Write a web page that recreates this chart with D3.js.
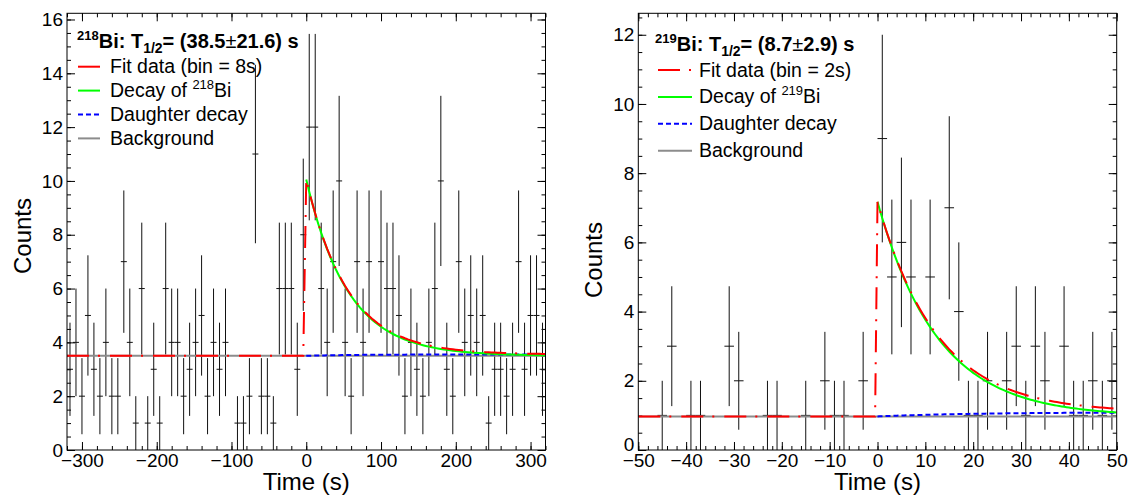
<!DOCTYPE html>
<html>
<head>
<meta charset="utf-8">
<script src="https://cdn.jsdelivr.net/npm/d3@7"></script>
<style>
  body { margin: 0; background: #fff; }
  svg { display: block; font-family: "Liberation Sans", Arial, Helvetica, sans-serif; }
</style>
</head>
<body>
<svg id="chart" width="1128" height="495"></svg>
<script>
// counts per bin (8 s bins for 218Bi, 2 s bins for 219Bi)
const counts218 = [3,4,2,5,3,2,4,2,2,7, 4,1,6,1,3,1,6,4,4,2, 3,4,5,2,4,3,4,0,1,1, 2,11,2,2,1,6,6,6,3,8,
                   12,12,6,4,7,10,4,2,7,4, 7,0,7,6,6,5,2,4,3,2, 4,6,10,3,2,7,4,5,4,5, 1,3,3,2,3,7,3,5,5,3];
const counts219 = [0,0,1,3,0,1,1,0,0,3, 2,0,0,1,1,0,0,1,0,2, 1,1,0,2,0,9,5,6,5,0,
                   5,0,7,4,1,1,2,0,2,3, 1,3,2,0,3,1,1,2,1,2];

const xTicks218 = [-300, -200, -100, 0, 100, 200, 300];
const xTicks219 = [-50, -40, -30, -20, -10, 0, 10, 20, 30, 40, 50];
const yTicks218 = [0, 2, 4, 6, 8, 10, 12, 14, 16];
const yTicks219 = [0, 2, 4, 6, 8, 10, 12];

// fit parameters: background, decay amplitude, half-life, daughter growth
const fit218 = { bkg: 3.5, amp: 6.55, halfLife: 38.5, dAmp: 0.05, dTau: 60 };
const fit219 = { bkg: 0.97, amp: 6.2, halfLife: 8.7, dAmp: 0.12, dTau: 20 };

const svg = d3.select("#chart");

function drawPanel(p) {
  const x = d3.scaleLinear().domain(p.xDomain).range([p.x0, p.x1]);
  const y = d3.scaleLinear().domain([0, p.yMax]).range([p.y1, p.y0]);
  const g = svg.append("g");

  g.append("clipPath").attr("id", p.id + "-clip")
    .append("rect").attr("x", p.x0).attr("y", p.y0)
    .attr("width", p.x1 - p.x0).attr("height", p.y1 - p.y0);

  // axes, ticks inside the frame on all four sides
  const minorX = d3.range(p.xDomain[0], p.xDomain[1] + 0.001, p.xMinor);
  const minorY = d3.range(0, p.yMax, p.yMinor);
  const axes = [
    [d3.axisBottom(x).tickValues(minorX).tickSize(-4).tickFormat(""), `translate(0,${p.y1})`],
    [d3.axisTop(x).tickValues(minorX).tickSize(-4).tickFormat(""), `translate(0,${p.y0})`],
    [d3.axisTop(x).tickValues(p.xTicks).tickSize(-8).tickFormat(""), `translate(0,${p.y0})`],
    [d3.axisLeft(y).tickValues(minorY).tickSize(-4).tickFormat(""), `translate(${p.x0},0)`],
    [d3.axisRight(y).tickValues(minorY).tickSize(-4).tickFormat(""), `translate(${p.x1},0)`],
    [d3.axisRight(y).tickValues(p.yTicks).tickSize(-8).tickFormat(""), `translate(${p.x1},0)`]
  ];
  axes.forEach(([ax, tr]) => {
    const a = g.append("g").attr("transform", tr).call(ax);
    a.select(".domain").remove();
  });
  const xa = g.append("g").attr("transform", `translate(0,${p.y1})`)
    .call(d3.axisBottom(x).tickValues(p.xTicks).tickSize(-8).tickPadding(4));
  xa.select(".domain").remove();
  xa.selectAll("text").attr("font-size", 19).attr("fill", "#000");
  const ya = g.append("g").attr("transform", `translate(${p.x0},0)`)
    .call(d3.axisLeft(y).tickValues(p.yTicks).tickSize(-8).tickPadding(4));
  ya.select(".domain").remove();
  ya.selectAll("text").attr("font-size", 19).attr("fill", "#000")
    .attr("y", d => d === 0 ? -p.zeroLift : 0);
  [xa, ya].forEach(a => a.attr("font-family", null).attr("font-size", null));

  // histogram error bars
  const bins = p.counts.map((c, i) => ({ lo: p.xDomain[0] + i * p.binW, c }))
    .filter(d => d.c > 0);
  const eb = g.append("g").attr("clip-path", `url(#${p.id}-clip)`)
    .attr("stroke", "#111").attr("stroke-width", 1);
  eb.selectAll(".v").data(bins).join("line")
    .attr("x1", d => x(d.lo + p.binW / 2)).attr("x2", d => x(d.lo + p.binW / 2))
    .attr("y1", d => y(d.c - Math.sqrt(d.c))).attr("y2", d => y(d.c + Math.sqrt(d.c)));
  eb.selectAll(".h").data(bins).join("line")
    .attr("x1", d => x(d.lo)).attr("x2", d => x(d.lo + p.binW))
    .attr("y1", d => y(d.c)).attr("y2", d => y(d.c));

  // fit components
  const f = p.fit;
  const lam = Math.LN2 / f.halfLife;
  const daughter = t => f.dAmp * (1 - Math.exp(-t / f.dTau));
  const decay = t => f.bkg + f.amp * Math.exp(-lam * t);
  const total = t => t < 0 ? f.bkg : decay(t) + daughter(t);
  const tPos = d3.range(0, p.xDomain[1] + 0.001, p.step);
  const tAll = d3.range(p.xDomain[0], p.xDomain[1] + 0.001, p.step);
  const line = d3.line().x(d => x(d[0])).y(d => y(d[1]));
  const cg = g.append("g").attr("clip-path", `url(#${p.id}-clip)`).attr("fill", "none");

  cg.append("path").attr("d", line([[p.xDomain[0], f.bkg], [p.xDomain[1], f.bkg]]))
    .attr("stroke", "#8c8c8c").attr("stroke-width", 2);
  cg.append("path").attr("d", line(tPos.map(t => [t, f.bkg + daughter(t)])))
    .attr("stroke", "#0000ff").attr("stroke-width", 2).attr("stroke-dasharray", "5 3");
  cg.append("path").attr("d", line(tPos.map(t => [t, decay(t)])))
    .attr("stroke", "#00ff00").attr("stroke-width", 2);
  cg.append("path").attr("d", line(tAll.map(t => [t, total(t)])))
    .attr("stroke", "#ff0000").attr("stroke-width", 2).attr("stroke-dasharray", "22 9 2 10");

  // frame
  g.append("rect").attr("x", p.x0).attr("y", p.y0)
    .attr("width", p.x1 - p.x0).attr("height", p.y1 - p.y0)
    .attr("fill", "none").attr("stroke", "#000").attr("stroke-width", 1);

  // axis titles
  g.append("text").attr("x", (p.x0 + p.x1) / 2).attr("y", 490)
    .attr("text-anchor", "middle").attr("font-size", 24).text("Time (s)");
  g.append("text").attr("transform", `translate(${p.yTitleX},${p.yTitleY}) rotate(-90)`)
    .attr("text-anchor", "middle").attr("font-size", 24).text("Counts");

  // legend
  const L = p.legend;
  const title = g.append("text").attr("x", L.x).attr("y", L.titleY)
    .attr("font-size", 20).attr("font-weight", "bold");
  title.append("tspan").attr("font-size", 13).attr("dy", -8).text(p.iso);
  title.append("tspan").attr("dy", 8).text("Bi: T");
  title.append("tspan").attr("font-size", 14).attr("dy", 5).text("1/2");
  title.append("tspan").attr("dy", -5).text("= (" + p.halfText[0]);
  title.append("tspan").attr("font-weight", "normal").text("\u00b1");
  title.append("tspan").text(p.halfText[1] + ") s");

  const entries = [
    { label: `Fit data (bin = ${p.binW}s)`, color: "#ff0000", dash: L.redDash },
    { label: "Decay of ", sup: p.iso, color: "#00ff00", dash: null },
    { label: "Daughter decay", color: "#0000ff", dash: "5 3" },
    { label: "Background", color: "#8c8c8c", dash: null }
  ];
  entries.forEach((e, i) => {
    const ly = L.y0 + i * L.dy;
    g.append("line").attr("x1", L.lx0).attr("x2", L.lx1).attr("y1", ly).attr("y2", ly)
      .attr("stroke", e.color).attr("stroke-width", 2).attr("stroke-dasharray", e.dash);
    const t = g.append("text").attr("x", L.tx).attr("y", ly + 6.5).attr("font-size", 19.5);
    t.append("tspan").text(e.label);
    if (e.sup) {
      t.append("tspan").attr("font-size", 13).attr("dy", -8).text(e.sup);
      t.append("tspan").attr("dy", 8).text("Bi");
    }
  });
}

drawPanel({
  id: "bi218", iso: "218", halfText: ["38.5", "21.6"],
  x0: 67, x1: 545.5, y0: 13.3, y1: 450,
  xDomain: [-320, 320], yMax: 16.23, binW: 8, step: 4,
  xTicks: xTicks218, xMinor: 20, yTicks: yTicks218, yMinor: 0.5,
  counts: counts218, fit: fit218, zeroLift: 0,
  yTitleX: 31, yTitleY: 236,
  legend: { x: 77, titleY: 48, y0: 66.7, dy: 23.9, lx0: 78, lx1: 100, tx: 110, redDash: null }
});

drawPanel({
  id: "bi219", iso: "219", halfText: ["8.7", "2.9"],
  x0: 638.3, x1: 1116.7, y0: 13.3, y1: 450,
  xDomain: [-50, 50], yMax: 12.62, binW: 2, step: 0.5,
  xTicks: xTicks219, xMinor: 2, yTicks: yTicks219, yMinor: 0.5,
  counts: counts219, fit: fit219, zeroLift: 6,
  yTitleX: 602, yTitleY: 260,
  legend: { x: 655, titleY: 51, y0: 70, dy: 26.9, lx0: 658, lx1: 692, tx: 699, redDash: "22 9 2 10" }
});
</script>
</body>
</html>
